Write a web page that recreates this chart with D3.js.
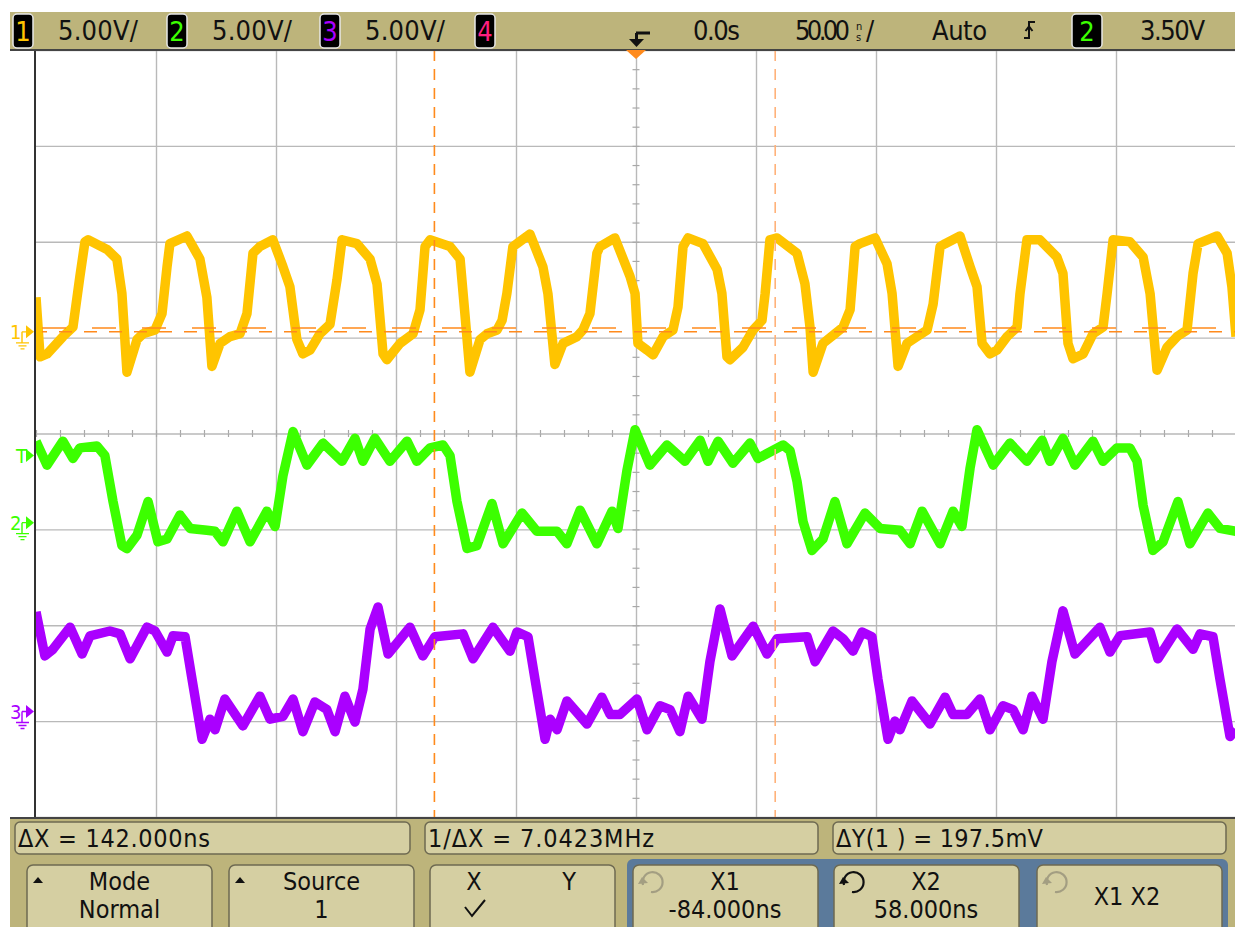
<!DOCTYPE html>
<html>
<head>
<meta charset="utf-8">
<script src="https://cdn.jsdelivr.net/npm/d3@7/dist/d3.min.js"></script>
<style>
	body { margin: 0; background: #fff; }
	svg text { font-family: "Liberation Sans Narrow", "DejaVu Sans Condensed", "Liberation Sans", sans-serif; }
</style>
</head>
<body>
<svg id="scope" width="1235" height="927"></svg>
<script>
// traces: [time ns, volts]
const ch1Trace = [[-250,1.8],[-248.3,-1.3],[-245.4,-1.15],[-238.8,-0.25],[-234.6,0.25],[-231.7,2.9],[-229.6,4.7],[-228.3,4.8],[-220.4,4.3],[-216.3,3.8],[-214.2,2.0],[-212.1,-2.1],[-207.9,-0.4],[-205.4,-0.1],[-200.4,0.1],[-197.5,0.95],[-195.4,3.4],[-194.2,4.6],[-187.1,5.0],[-181.7,3.8],[-178.8,1.8],[-176.7,-1.8],[-173.3,-0.6],[-169.2,-0.25],[-165,-0.1],[-162.1,0.95],[-159.6,4.1],[-156.7,4.45],[-151.3,4.8],[-147.1,3.4],[-144.2,2.35],[-141.3,-0.4],[-138.8,-1.15],[-135.8,-0.95],[-131.7,-0.1],[-127.5,0.4],[-124.6,2.7],[-122.5,4.8],[-116.3,4.6],[-110.8,3.8],[-107.9,2.5],[-105.4,-1.15],[-103.8,-1.45],[-98.3,-0.6],[-92.9,-0.1],[-90,1.15],[-87.9,4.45],[-85.8,4.8],[-77.5,4.45],[-73.3,3.8],[-71.3,0.95],[-69.2,-2.1],[-65,-0.4],[-62.1,-0.1],[-57.9,0.1],[-55.8,0.6],[-53.8,2.0],[-51.3,4.45],[-49.6,4.6],[-44.2,5.1],[-38.8,3.4],[-36.7,2.0],[-33.8,-1.7],[-30.4,-0.6],[-24.6,-0.25],[-22.1,0.1],[-19.2,0.95],[-16.3,4.1],[-15,4.45],[-8.8,4.9],[-2.5,2.9],[-0.4,2.0],[0.8,-0.6],[4.6,-0.95],[7.1,-1.2],[11.3,-0.25],[15.4,0.1],[17.5,1.3],[19.6,4.45],[21.7,4.9],[27.9,4.6],[33.8,3.25],[35.8,2.0],[37.9,-1.3],[39.2,-1.45],[44.6,-0.8],[48.8,0.1],[52.5,0.6],[53.8,2.0],[55.8,4.8],[58.8,4.9],[67.1,4.1],[70.4,2.5],[72.5,0.25],[73.8,-2.1],[77.9,-0.6],[82.9,-0.1],[86.3,0.25],[89.2,1.15],[91.3,4.45],[93.3,4.6],[99.6,4.9],[104.6,3.55],[106.7,2.0],[109.2,-1.8],[112.9,-0.6],[117.1,-0.25],[121.3,0.1],[123.8,1.45],[126.7,4.45],[128.8,4.6],[135,5.0],[139.2,3.4],[142.1,2.35],[144.2,-0.6],[147.5,-1.15],[150.4,-0.95],[154.6,-0.25],[158.8,0.25],[160,2.0],[162.9,4.8],[168.3,4.8],[175.4,3.9],[177.9,3.05],[180,-0.6],[182.1,-1.4],[186.3,-1.15],[190.4,-0.1],[194.6,0.25],[196.3,2.0],[198.8,4.8],[205.8,4.7],[211.3,3.9],[214.2,2.0],[217.1,-2.0],[221.3,-0.8],[225.4,-0.25],[229.6,0.1],[232.1,3.05],[234.2,4.6],[242.1,5.0],[246.3,4.1],[248.3,2.35],[250,-0.25]];

const ch2Trace = [[-250,4.25],[-245.4,3.0],[-238.8,4.25],[-234.6,3.35],[-231.7,3.9],[-224.6,4.0],[-221.3,3.5],[-217.9,1.1],[-214.2,-1.2],[-212.1,-1.35],[-207.9,-0.65],[-203.3,1.1],[-199.2,-1.0],[-195.4,-0.85],[-190,0.4],[-185.8,-0.3],[-178.8,-0.4],[-175.4,-0.45],[-172.1,-1.0],[-166.3,0.6],[-160.8,-1.0],[-153.8,0.6],[-150.4,-0.2],[-147.1,2.45],[-142.9,4.75],[-137.1,3.0],[-130.4,4.15],[-122.5,3.2],[-117.1,4.4],[-113.8,3.2],[-108.8,4.4],[-102.5,3.2],[-95.4,4.25],[-91.3,3.2],[-85.8,3.9],[-80.4,4.05],[-77.5,3.5],[-74.6,1.1],[-70.4,-1.35],[-66.3,-1.2],[-60,1.0],[-55.4,-1.1],[-47.5,0.5],[-41.3,-0.45],[-32.9,-0.45],[-28.8,-1.1],[-23.3,0.65],[-16.3,-1.1],[-10,0.6],[-7.5,-0.3],[-3.8,2.7],[-0.4,4.85],[5.8,3.0],[12.9,4.05],[20.4,3.2],[26.7,4.3],[30,3.2],[34.2,4.25],[40.4,3.1],[47.5,4.15],[50.8,3.35],[61.3,4.05],[64.2,3.75],[67.1,2.15],[69.6,0.05],[73.3,-1.45],[77.9,-0.85],[82.9,1.1],[87.9,-1.1],[95.4,0.5],[101.7,-0.3],[110,-0.4],[114.2,-1.1],[119.2,0.6],[126.7,-1.1],[132.1,0.6],[135.8,-0.2],[139.2,2.85],[142.1,4.85],[148.8,3.0],[155.8,4.15],[162.9,3.2],[169.2,4.3],[172.5,3.2],[177.9,4.4],[182.9,3.0],[190.4,4.25],[194.6,3.2],[200.4,3.9],[205.8,3.9],[208.8,3.2],[211.3,0.9],[215.4,-1.45],[219.6,-1.0],[225.8,1.1],[230.8,-1.1],[238.3,0.5],[243.3,-0.3],[250,-0.45]];

const ch3Trace = [[-250,5.2],[-246.3,2.9],[-242.9,3.25],[-235.8,4.4],[-230.8,3.0],[-227.5,3.95],[-219.2,4.2],[-215,4.05],[-210.8,2.75],[-203.8,4.4],[-200.4,4.2],[-195.4,3.1],[-192.9,3.95],[-187.9,3.9],[-185,1.7],[-180.8,-1.45],[-177.5,-0.4],[-175.4,-0.95],[-171.3,0.65],[-163.8,-0.75],[-156.7,0.8],[-152.5,-0.4],[-147.1,-0.25],[-142.9,0.65],[-138.8,-1.05],[-133.8,0.5],[-128.8,0.1],[-125.4,-1.05],[-121.3,0.8],[-117.1,-0.55],[-113.8,1.15],[-110.8,4.3],[-107.5,5.45],[-103.3,3.0],[-94.2,4.4],[-88.8,2.9],[-83.8,3.9],[-72.1,4.05],[-67.9,2.75],[-59.6,4.4],[-52.5,3.15],[-49.6,4.15],[-45,3.9],[-42.1,1.7],[-37.9,-1.45],[-35.8,-0.4],[-32.9,-0.95],[-28.8,0.55],[-20.4,-0.65],[-14.2,0.75],[-10.8,-0.15],[-6.7,-0.15],[0.4,0.65],[4.6,-0.95],[10,0.3],[14.2,0.1],[18.3,-1.05],[21.7,0.8],[27.5,-0.4],[30.8,2.6],[35,5.35],[40,2.9],[48.8,4.45],[54.6,3.0],[58.8,3.8],[71.3,3.9],[74.6,2.6],[82.1,4.2],[86.3,3.8],[90.4,3.15],[94.2,4.15],[98.3,3.9],[100.8,1.7],[105,-1.45],[107.9,-0.5],[110,-0.95],[115,0.55],[122.5,-0.65],[128.8,0.75],[132.1,-0.15],[137.9,-0.15],[143.3,0.65],[147.5,-0.95],[152.9,0.3],[157.1,0.1],[161.3,-0.95],[165,0.8],[169.6,-0.4],[173.3,2.6],[177.9,5.25],[182.9,3.0],[193.3,4.4],[197.5,3.1],[201.7,3.95],[214.2,4.15],[217.5,2.75],[225.4,4.3],[232.1,3.25],[235,4.05],[240.4,3.9],[243.3,1.7],[247.5,-1.3],[250,-0.95]];

const channelNames = ["1", "2", "3", "4"];
const channelColors = ["#ffc400", "#3cff00", "#aa00ff", "#ff1f7f"];
const channelScales = ["5.00V/", "5.00V/", "5.00V/", ""];
const channelOffsets = [5.3, -4.65, -14.5]; // V, ground relative to centre line
const voltsPerDiv = 5;
const timeTicks = d3.range(-250, 251, 50); // ns, 50ns/div
const divTicks = d3.range(-4, 5);
const cursorX = [-84, 58]; // ns
const cursorY = [0, 0.1975]; // V on channel 1
const triggerLevel = 3.5; // V on channel 2
const timeLabels = ["0.0s", "50.00", "Auto", "3.50V"];
const statusTexts = ["\u0394X = 142.000ns", "1/\u0394X = 7.0423MHz", "\u0394Y(1 ) = 197.5mV"];

const svg = d3.select("#scope");
const W = 1235, H = 927;
const tan = "#bdb47b", boxFill = "#d5cfa2", boxEdge = "#6e6a52";

const x = d3.scaleLinear().domain([-250, 250]).range([36, 1236]);
const yDiv = d3.scaleLinear().domain([-4, 4]).range([817, 50]);
const yCh = (i) => (v) => yDiv((v + channelOffsets[i]) / voltsPerDiv);

// ---- graticule
let $grid = svg.append("g");
$grid.append("g")
	.attr("transform", `translate(0,${yDiv(-4)})`)
	.call(d3.axisBottom(x).tickValues(timeTicks.slice(1)).tickSize(-(yDiv(-4) - yDiv(4))).tickFormat(""))
	.call(g => g.select(".domain").remove());
$grid.append("g")
	.attr("transform", `translate(${x(-250)},0)`)
	.call(d3.axisLeft(yDiv).tickValues(divTicks).tickSize(-1200).tickFormat(""))
	.call(g => g.select(".domain").remove());
$grid.selectAll("line").attr("stroke", "#b9b9b9").attr("stroke-width", 1.4);

// minor ticks on the centre axes
const minorT = d3.range(-250, 251, 10);
const minorD = d3.range(-4, 4.01, 0.2);
[d3.axisTop, d3.axisBottom].forEach(ax => {
	$grid.append("g")
		.attr("transform", `translate(0,${yDiv(0)})`)
		.call(ax(x).tickValues(minorT).tickSize(3.5).tickFormat(""))
		.call(g => g.select(".domain").remove())
		.selectAll("line").attr("stroke", "#a8a8a8").attr("stroke-width", 1.2);
});
[d3.axisLeft, d3.axisRight].forEach(ax => {
	$grid.append("g")
		.attr("transform", `translate(${x(0)},0)`)
		.call(ax(yDiv).tickValues(minorD).tickSize(3.5).tickFormat(""))
		.call(g => g.select(".domain").remove())
		.selectAll("line").attr("stroke", "#a8a8a8").attr("stroke-width", 1.2);
});

// ---- traces
svg.append("defs").append("clipPath").attr("id", "plotClip")
	.append("rect").attr("x", 36).attr("y", 50).attr("width", 1200).attr("height", 767);

const traces = [ch1Trace, ch2Trace, ch3Trace];
traces.forEach((data, i) => {
	const line = d3.line().x(d => x(d[0])).y(d => yCh(i)(d[1]));
	svg.append("path")
		.attr("clip-path", "url(#plotClip)")
		.attr("d", line(data))
		.attr("fill", "none")
		.attr("stroke", channelColors[i])
		.attr("stroke-width", 9.5)
		.attr("stroke-linejoin", "round");
});

// ---- cursors
const cursorCols = ["#ff8a1c", "#ffb27a"];
cursorX.forEach((t, i) => {
	svg.append("line")
		.attr("x1", x(t)).attr("x2", x(t))
		.attr("y1", 50).attr("y2", 817)
		.attr("stroke", cursorCols[i])
		.attr("stroke-width", 1.6)
		.attr("stroke-dasharray", "11,8");
});
cursorY.forEach((v, i) => {
	svg.append("line")
		.attr("x1", 42).attr("x2", 1235)
		.attr("y1", yCh(0)(v)).attr("y2", yCh(0)(v))
		.attr("stroke", "#ff8a1c")
		.attr("stroke-width", 1.5)
		.attr("stroke-dasharray", i ? "24,26" : "13,12")
		.attr("stroke-dashoffset", i ? 0 : 8);
});

// border of the screen
svg.append("line").attr("x1", 35).attr("x2", 35).attr("y1", 50).attr("y2", 818)
	.attr("stroke", "#333").attr("stroke-width", 2);

// ---- channel markers at the left
function marker(label, color, yPos, ground) {
	let $m = svg.append("g").attr("fill", color).attr("stroke", color);
	$m.append("text")
		.attr("x", ground ? 10 : 16).attr("y", yPos + 7)
		.attr("stroke", "none")
		.attr("font-size", 20)
		.text(label);
	$m.append("path")
		.attr("d", `M26,${yPos - 6.5}L34,${yPos}L26,${yPos + 6.5}Z`)
		.attr("stroke", "none");
	if (ground) {
		$m.append("path")
			.attr("fill", "none")
			.attr("stroke-width", 1.4)
			.attr("d", `M22,${yPos}H27M22,${yPos}V${yPos + 11}M16,${yPos + 11}H29M18.5,${yPos + 14}H26.5M20.5,${yPos + 17}H24.5`);
	}
}
marker("1", channelColors[0], yCh(0)(0), true);
marker("T", channelColors[1], yCh(1)(triggerLevel), false);
marker("2", channelColors[1], yCh(1)(0), true);
marker("3", channelColors[2], yCh(2)(0), true);

// ---- top status bar
svg.append("rect").attr("x", 10).attr("y", 12).attr("width", W - 10).attr("height", 38).attr("fill", tan);
svg.append("line").attr("x1", 10).attr("x2", W).attr("y1", 50).attr("y2", 50).attr("stroke", "#444").attr("stroke-width", 2);

const badgeX = [13, 167, 320, 475];
const scaleX = [58, 212, 365];
function badge(bx, label, color) {
	svg.append("rect")
		.attr("x", bx).attr("y", 14).attr("width", 20).attr("height", 34).attr("rx", 4)
		.attr("fill", "#000").attr("stroke", "#e8e8e8").attr("stroke-width", 1.5);
	svg.append("text")
		.attr("x", bx + 10).attr("y", 41).attr("text-anchor", "middle")
		.attr("font-size", 27).attr("fill", color).text(label);
}
channelNames.forEach((n, i) => {
	badge(badgeX[i], n, channelColors[i]);
	if (channelScales[i]) {
		svg.append("text")
			.attr("x", scaleX[i]).attr("y", 40)
			.attr("font-size", 27).attr("fill", "#111")
			.attr("textLength", 80).attr("lengthAdjust", "spacing")
			.text(channelScales[i]);
	}
});

// trigger position marker
svg.append("path").attr("d", "M636,33H650M636.5,33V40").attr("stroke", "#111").attr("stroke-width", 3).attr("fill", "none");
svg.append("path").attr("d", "M629,39H644L636.5,47Z").attr("fill", "#111");
svg.append("path").attr("d", `M${x(0) - 10},50H${x(0) + 10}L${x(0)},59Z`).attr("fill", "#ff8a1c");

svg.append("text").attr("x", 693).attr("y", 40).attr("font-size", 27).attr("fill", "#111")
	.attr("textLength", 47).attr("lengthAdjust", "spacing").text(timeLabels[0]);
svg.append("text").attr("x", 795).attr("y", 40).attr("font-size", 27).attr("fill", "#111")
	.attr("textLength", 55).attr("lengthAdjust", "spacing").text(timeLabels[1]);
svg.append("text").attr("x", 856).attr("y", 30).attr("font-size", 11).attr("fill", "#111").text("n");
svg.append("text").attr("x", 856).attr("y", 41).attr("font-size", 11).attr("fill", "#111").text("s");
svg.append("text").attr("x", 866).attr("y", 40).attr("font-size", 27).attr("fill", "#111").text("/");
svg.append("text").attr("x", 932).attr("y", 40).attr("font-size", 27).attr("fill", "#111")
	.attr("textLength", 55).attr("lengthAdjust", "spacing").text(timeLabels[2]);
// rising slope icon
svg.append("path").attr("d", "M1024,38H1029V22H1035M1025.5,31L1029,26.5L1032.5,31")
	.attr("stroke", "#111").attr("stroke-width", 2).attr("fill", "none");
svg.append("rect")
	.attr("x", 1072).attr("y", 14).attr("width", 30).attr("height", 34).attr("rx", 4)
	.attr("fill", "#000").attr("stroke", "#e8e8e8").attr("stroke-width", 1.5);
svg.append("text").attr("x", 1087).attr("y", 41).attr("text-anchor", "middle")
	.attr("font-size", 27).attr("fill", channelColors[1]).text("2");
svg.append("text").attr("x", 1140).attr("y", 40).attr("font-size", 27).attr("fill", "#111")
	.attr("textLength", 65).attr("lengthAdjust", "spacing").text(timeLabels[3]);

// ---- bottom measurement / softkey panel
svg.append("rect").attr("x", 10).attr("y", 818).attr("width", W - 10).attr("height", H - 818).attr("fill", tan);
svg.append("line").attr("x1", 10).attr("x2", W).attr("y1", 818).attr("y2", 818).attr("stroke", "#444").attr("stroke-width", 2);

const statusX = [15, 425, 833];
const statusW = [395, 393, 393];
const statusLen = [192, 226, 207];
statusTexts.forEach((s, i) => {
	svg.append("rect")
		.attr("x", statusX[i]).attr("y", 822).attr("width", statusW[i]).attr("height", 32).attr("rx", 5)
		.attr("fill", boxFill).attr("stroke", boxEdge).attr("stroke-width", 1.5);
	svg.append("text")
		.attr("x", statusX[i] + 3).attr("y", 847)
		.attr("font-size", 25).attr("fill", "#111")
		.attr("textLength", statusLen[i]).attr("lengthAdjust", "spacing")
		.text(s);
});

svg.append("rect").attr("x", 627).attr("y", 859).attr("width", 601).attr("height", 80).attr("rx", 6).attr("fill", "#5b7a9b");

const keys = [
	{ x: 27, top: "Mode", bot: "Normal", tri: true },
	{ x: 229, top: "Source", bot: "1", tri: true },
	{ x: 430, top: "", bot: "" },
	{ x: 633, top: "X1", bot: "-84.000ns", icon: "#a39e82" },
	{ x: 834, top: "X2", bot: "58.000ns", icon: "#111" },
	{ x: 1037, top: "", bot: "", icon: "#a39e82", mid: "X1 X2" }
];
keys.forEach(k => {
	const w = 185, cx = k.x + w / 2;
	svg.append("rect")
		.attr("x", k.x).attr("y", 865).attr("width", w).attr("height", 80).attr("rx", 6)
		.attr("fill", boxFill).attr("stroke", boxEdge).attr("stroke-width", 1.5);
	if (k.tri) {
		svg.append("path").attr("d", `M${k.x + 6},${883}h10l-5,-6Z`).attr("fill", "#111");
	}
	if (k.icon) {
		const ix = k.x + 19, iy = 882;
		svg.append("path")
			.attr("d", `M${ix - 9},${iy + 3}A10,10 0 1 1 ${ix - 1},${iy + 10}`)
			.attr("fill", "none").attr("stroke", k.icon).attr("stroke-width", 2.2);
		svg.append("path")
			.attr("d", `M${ix - 14},${iy + 2}L${ix - 4},${iy + 1}L${ix - 10},${iy - 5}Z`)
			.attr("fill", k.icon);
	}
	const tx = k.icon ? k.x + 92 : cx;
	if (k.top) svg.append("text").attr("x", tx).attr("y", 890).attr("text-anchor", "middle")
		.attr("font-size", 25).attr("fill", "#111").text(k.top);
	if (k.bot) svg.append("text").attr("x", tx).attr("y", 918).attr("text-anchor", "middle")
		.attr("font-size", 25).attr("fill", "#111").text(k.bot);
	if (k.mid) svg.append("text").attr("x", k.x + 90).attr("y", 905).attr("text-anchor", "middle")
		.attr("font-size", 25).attr("fill", "#111").text(k.mid);
});
// X / Y key contents
svg.append("text").attr("x", 474).attr("y", 890).attr("text-anchor", "middle").attr("font-size", 25).attr("fill", "#111").text("X");
svg.append("text").attr("x", 569).attr("y", 890).attr("text-anchor", "middle").attr("font-size", 25).attr("fill", "#111").text("Y");
svg.append("path").attr("d", "M465,907L472,916L485,900").attr("fill", "none").attr("stroke", "#111").attr("stroke-width", 2);
</script>
</body>
</html>
